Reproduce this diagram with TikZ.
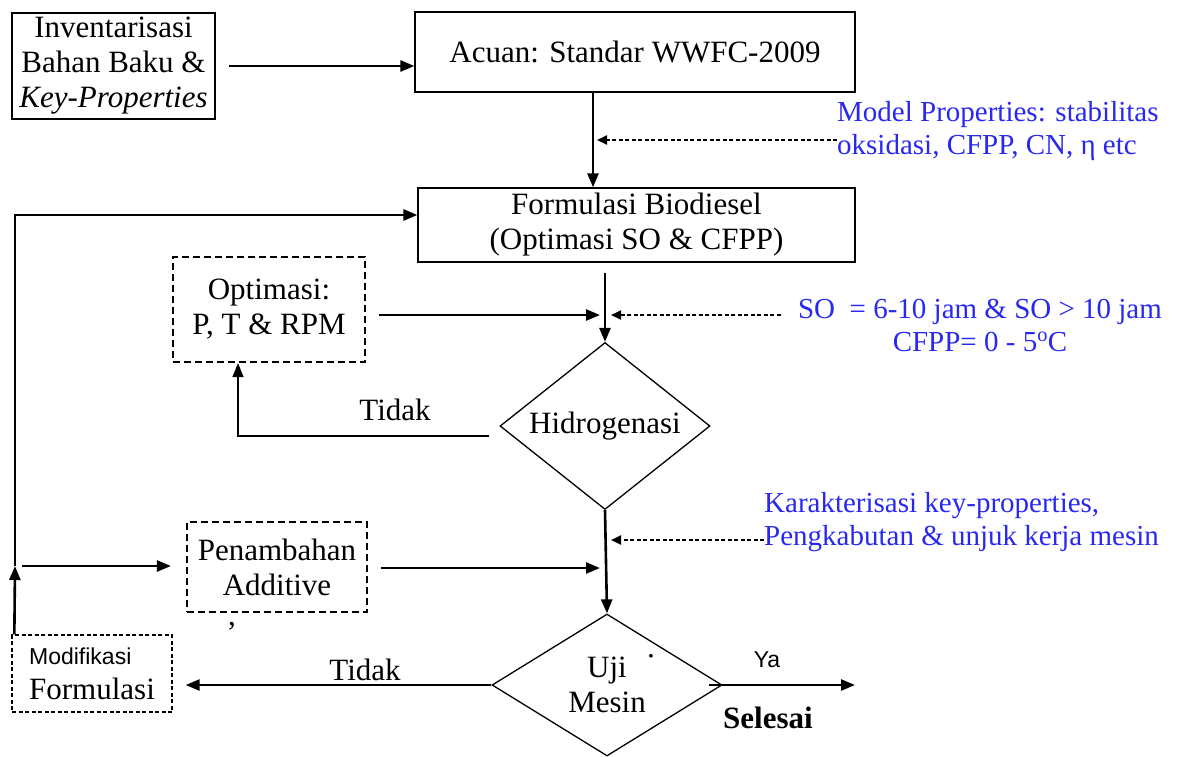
\documentclass[tikz,border=0pt]{standalone}
\usepackage{fontspec}
\setmainfont{Liberation Serif}
\newfontfamily\arialfont{Liberation Sans}
\usetikzlibrary{shapes.geometric,arrows.meta}
\definecolor{noteblue}{RGB}{40,40,240}
\newcommand\bigtext{\fontsize{31}{35}\selectfont}
\newcommand\notetext{\fontsize{29}{33}\selectfont}
\newcommand\smalltext{\arialfont\fontsize{23}{28}\selectfont}

\begin{document}
\begin{tikzpicture}[x=1pt,y=-1pt,font=\bigtext,>={Triangle[length=14pt,width=11pt]}]
  \tikzstyle{box}=[draw,line width=1.3pt,inner sep=0pt,align=center]
  \tikzstyle{dbox}=[box,line width=2.2pt,dash pattern=on 7pt off 4pt]
  \tikzstyle{decision}=[diamond,draw,line width=1.3pt,inner sep=0pt,align=center]
  \tikzstyle{flow}=[->,line width=2.6pt]
  \tikzstyle{hint}=[-{Triangle[length=10pt,width=9pt]},line width=2.2pt,dash pattern=on 4pt off 2.5pt]
  \tikzstyle{note}=[text=noteblue,inner sep=0pt,font=\notetext]
  \useasboundingbox (0,0) rectangle (1182,756);

  % boxes and decisions
  \node[box,minimum width=203pt,minimum height=106pt] (inv) at (113.5,66) {Inventarisasi\\Bahan Baku \&\\\textit{Key-Properties}};
  \node[box,minimum width=440pt,minimum height=80pt] (acuan) at (635,52) {Acuan: Standar WWFC-2009};
  \node[box,minimum width=437pt,minimum height=74pt] (form) at (636.5,225) {Formulasi Biodiesel\\(Optimasi SO \& CFPP)};
  \node[dbox,minimum width=192pt,minimum height=105pt] (opt) at (269,309.5) {Optimasi:\\P, T \& RPM};
  \node[decision,shape aspect=1.26,minimum width=210pt,minimum height=167pt] (hid) at (605,426) {Hidrogenasi};
  \node[dbox,minimum width=180pt,minimum height=90pt] (pen) at (277,567) {Penambahan\\Additive};
  \node[box,align=left,dash pattern=on 4pt off 2.5pt,minimum width=160pt,minimum height=77pt] (mod) at (92,673.5) {{\smalltext Modifikasi}\\Formulasi};
  \node[decision,shape aspect=1.6,minimum width=230pt,minimum height=142pt] (uji) at (607,685) {Uji\\Mesin};

  % blue notes
  \node[note,anchor=west,align=left] (mp) at (837,131) {Model Properties: stabilitas\\oksidasi, CFPP, CN, η etc};
  \node[note,align=center] (so) at (980,325) {SO\ \ = 6-10 jam \& SO > 10 jam\\CFPP= 0 - 5\textsuperscript{o}C};
  \node[note,anchor=west,align=left] (kar) at (764,522) {Karakterisasi key-properties,\\Pengkabutan \& unjuk kerja mesin};

  \coordinate (j1) at (593,140);
  \coordinate (j2) at (605,315);
  \coordinate (j3) at (605,540);
  \coordinate (j4) at (605,568);
  \coordinate (j5) at (15,566);
  \coordinate (stop) at (855,685);

  % connectors
  \draw[flow] ([xshift=13pt]inv.east) -- (inv.east -| acuan.west);
  \draw[flow] (acuan.south -| j1) -- (form.north -| j1);
  \draw[hint] (mp.west |- j1) -- ([xshift=4pt]j1);
  \draw[flow] ([yshift=-10pt]form.south -| hid.north) -- (hid.north);
  \draw[flow] ([xshift=13pt]opt.east |- j2) -- ([xshift=-5pt]j2);
  \draw[hint] ([xshift=-17pt]so.west |- j2) -- ([xshift=6pt]j2);
  \draw[->,line width=1.3pt] ([xshift=-10pt,yshift=-10pt]hid.west) -| ([xshift=-31pt]opt.south);
  \draw[flow] (hid.south) -- (uji.north);
  \draw[hint] (kar.west |- j3) -- ([xshift=6pt]j3);
  \draw[flow] ([xshift=13pt]pen.east |- j4) -- ([xshift=-5pt]j4);
  \draw[flow] ([xshift=3pt]mod.north west) -- (j5);
  \draw[flow] (j5) |- ([yshift=10pt]form.west);
  \draw[flow] ([xshift=7pt]j5) -- ([xshift=-15pt]pen.west |- j5);
  \draw[flow] (uji.west) -- ([xshift=13pt]mod.east |- uji.west);
  \draw[flow] ([xshift=-14pt]uji.east) -- (stop);

  % labels
  \node (t1) at (395,410) {Tidak};
  \node (t2) at (365,670) {Tidak};
  \node[font=\smalltext] (ya) at (767,660) {Ya};
  \node[font=\bigtext\bfseries] (sel) at (768,718) {Selesai};
  \node (cm) at (232,626) {,};
  \node (dt) at (651,660) {·};
\end{tikzpicture}
\end{document}
